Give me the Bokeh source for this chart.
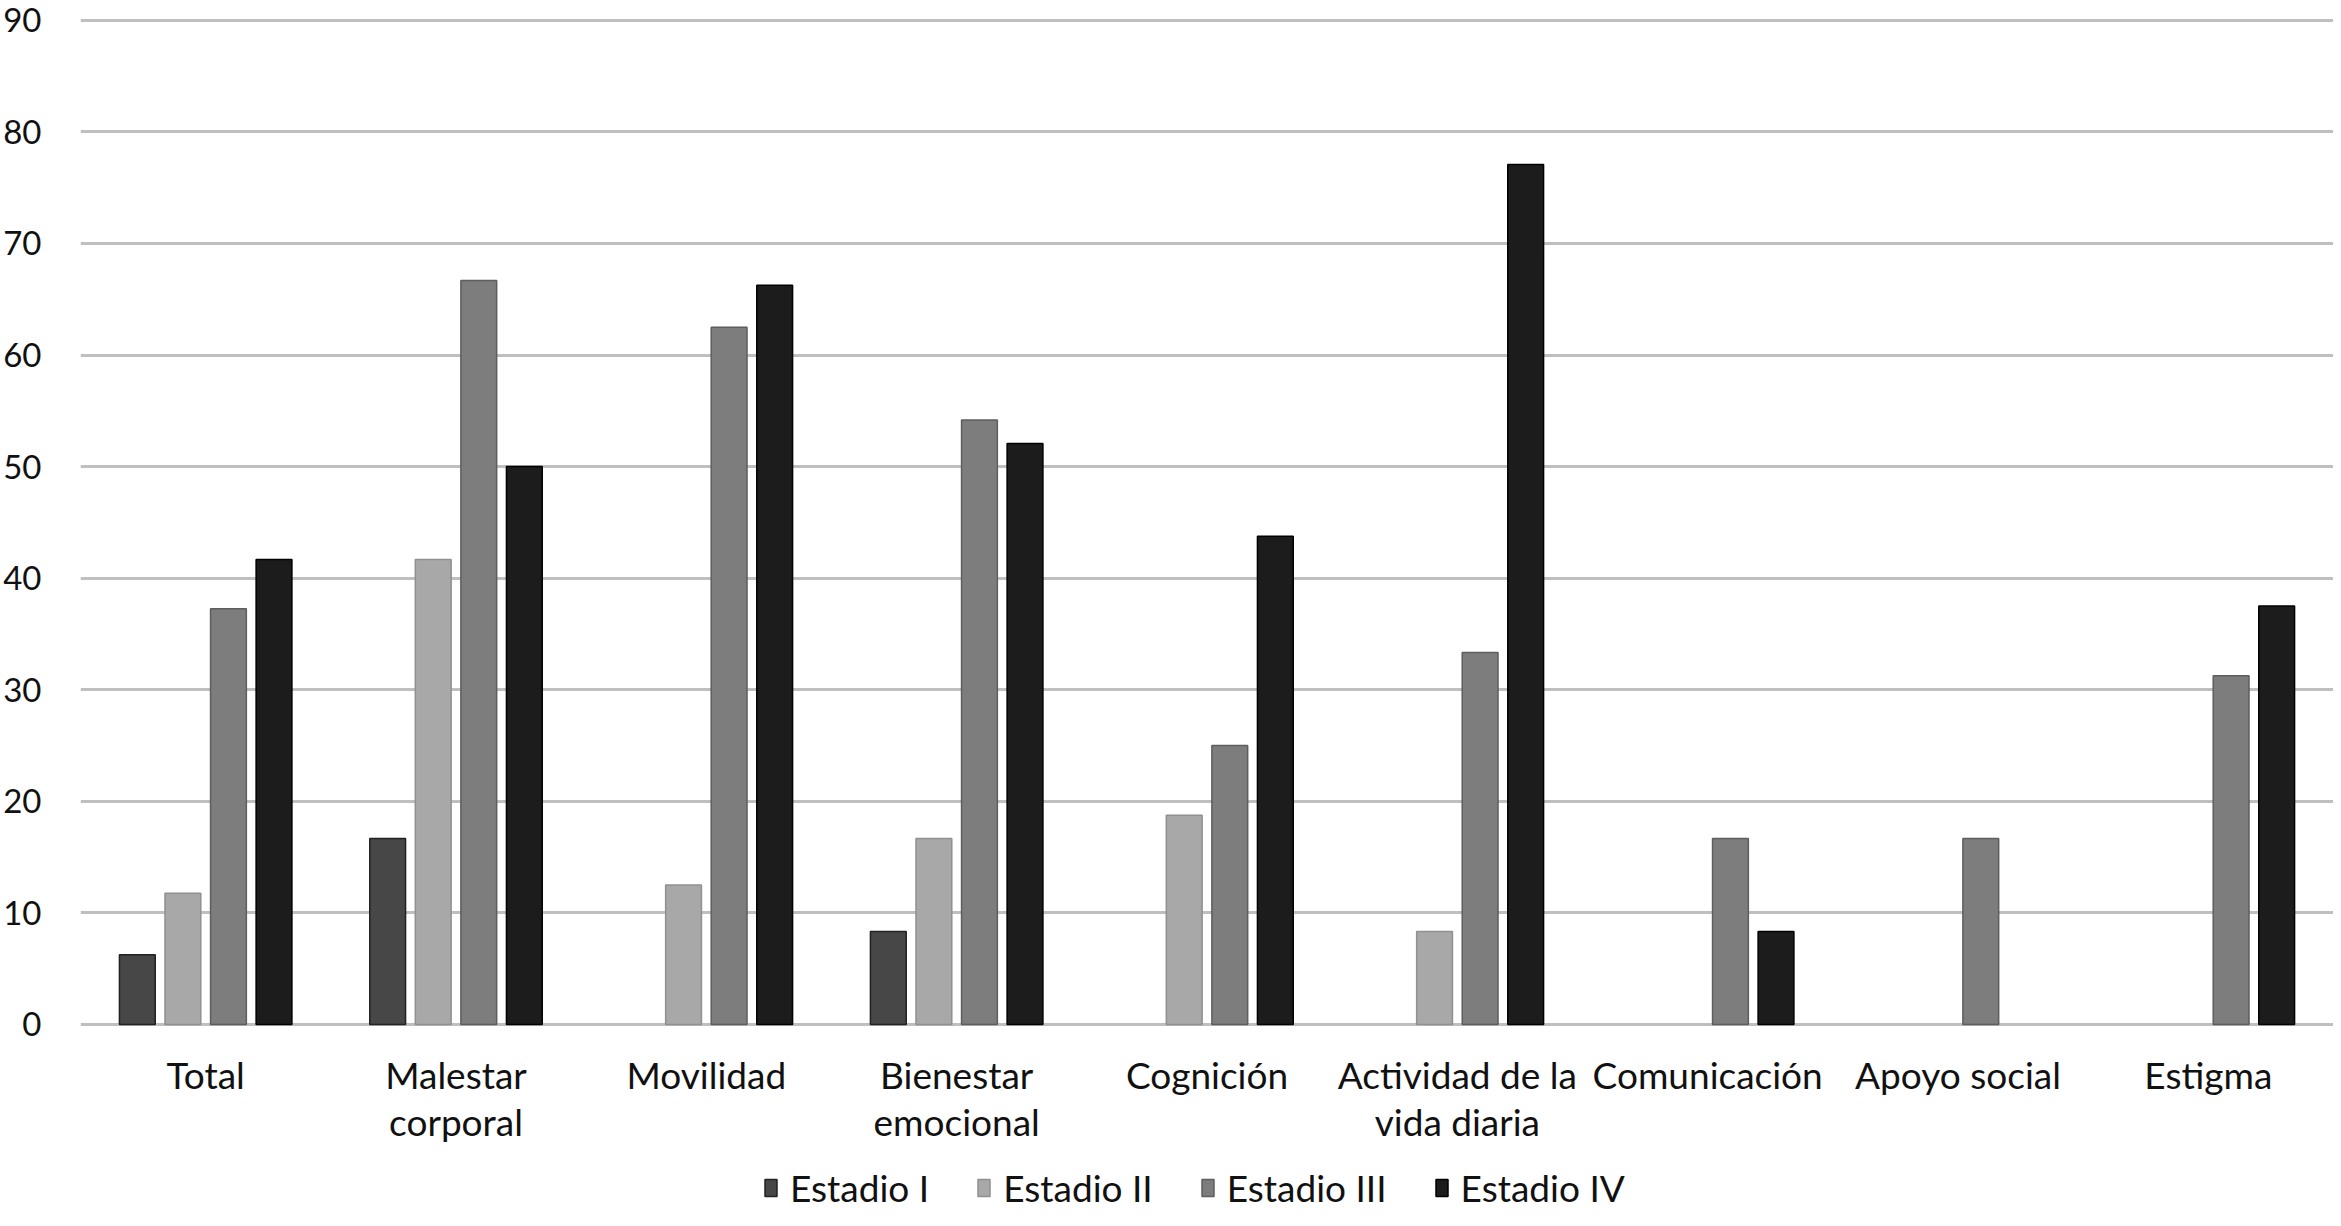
from bokeh.plotting import figure
from bokeh.models import FactorRange, Range1d, Legend, LegendItem, ColumnDataSource, FixedTicker
from bokeh.core.properties import value
from bokeh.transform import dodge
from bokeh.embed import file_html
from bokeh.resources import INLINE

categories = ["Total", "Malestar corporal", "Movilidad", "Bienestar emocional", "Cognición",
              "Actividad de la vida diaria", "Comunicación", "Apoyo social", "Estigma"]
label_line1 = ["Total", "Malestar", "Movilidad", "Bienestar", "Cognición",
               "Actividad de la", "Comunicación", "Apoyo social", "Estigma"]
label_line2 = ["", "corporal", "", "emocional", "", "vida diaria", "", "", ""]
series_names = ["Estadio I", "Estadio II", "Estadio III", "Estadio IV"]
estadio_i = [6.25, 16.67, 0, 8.33, 0, 0, 0, 0, 0]
estadio_ii = [11.76, 41.67, 12.5, 16.67, 18.75, 8.33, 0, 0, 0]
estadio_iii = [37.25, 66.67, 62.5, 54.17, 25.0, 33.33, 16.67, 16.67, 31.25]
estadio_iv = [41.67, 50.0, 66.25, 52.08, 43.75, 77.08, 8.33, 0, 37.5]
y_ticks = [0, 10, 20, 30, 40, 50, 60, 70, 80, 90]

series_values = [estadio_i, estadio_ii, estadio_iii, estadio_iv]
fills = ["#474747", "#a8a8a8", "#7d7d7d", "#1c1c1c"]
lines = ["#222222", "#909090", "#5e5e5e", "#000000"]
offsets = [-0.273, -0.091, 0.091, 0.273]

FONT = "Lato"
TXT = "#111111"
LINE1_Y = -4.48   # label positions below the zero line (layout only)
LINE2_Y = -8.66

p = figure(x_range=FactorRange(*categories, range_padding=0), y_range=Range1d(-16.67, 90.25),
           x_axis_location=None,
           width=2333, height=1210, output_backend="svg", toolbar_location=None,
           min_border_left=4, min_border_right=0, min_border_top=17, min_border_bottom=0)

items = []
for name, vals, fc, lc, off in zip(series_names, series_values, fills, lines, offsets):
    xs = [c for c, v in zip(categories, vals) if v > 0]
    ys = [v for v in vals if v > 0]
    src = ColumnDataSource(dict(x=xs, top=ys))
    r = p.vbar(x=dodge("x", off, range=p.x_range), top="top", bottom=0, width=0.143, source=src,
               fill_color=fc, line_color=lc, line_width=1.5)
    items.append(LegendItem(label=name, renderers=[r]))

l1 = ColumnDataSource(dict(x=categories, y=[LINE1_Y] * len(categories), t=label_line1))
l2_cats = [c for c, t in zip(categories, label_line2) if t]
l2_txt = [t for t in label_line2 if t]
l2 = ColumnDataSource(dict(x=l2_cats, y=[LINE2_Y] * len(l2_cats), t=l2_txt))
for src in (l1, l2):
    p.text(x="x", y="y", text="t", source=src, text_align="center", text_baseline="middle",
           text_font=value(FONT), text_font_size="37px", text_color=TXT)

p.outline_line_color = None
p.xgrid.grid_line_color = None
p.ygrid.grid_line_color = "#bfbfbf"
p.ygrid.grid_line_width = 2.8
p.ygrid.ticker = FixedTicker(ticks=y_ticks)

p.yaxis.ticker = FixedTicker(ticks=y_ticks)
p.yaxis.axis_line_color = None
p.yaxis.major_tick_line_color = None
p.yaxis.minor_tick_line_color = None
p.yaxis.major_label_text_font = FONT
p.yaxis.major_label_text_font_size = "33px"
p.yaxis.major_label_text_color = TXT
p.yaxis.major_label_standoff = 33

legend = Legend(items=items, orientation="horizontal", location=(683, 0),
                label_text_font=FONT, label_text_font_size="37px", label_text_color=TXT,
                glyph_width=15, glyph_height=21, label_standoff=12, spacing=47,
                border_line_color=None, background_fill_alpha=0, margin=0, padding=0)
p.add_layout(legend)

open("out.html", "w").write(file_html(p, INLINE))
